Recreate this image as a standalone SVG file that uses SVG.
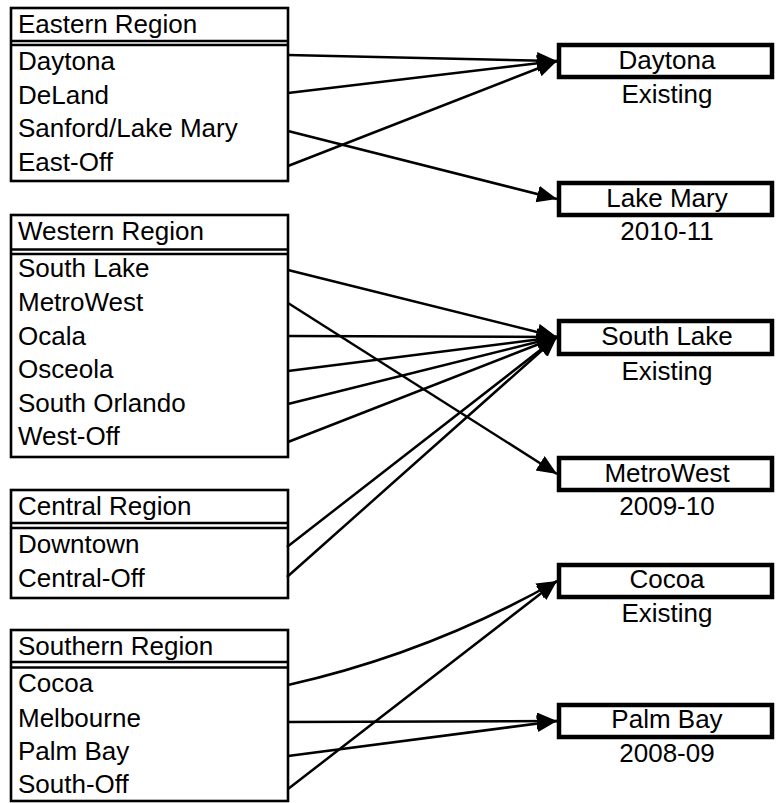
<svg xmlns="http://www.w3.org/2000/svg" width="778" height="803" viewBox="0 0 778 803">
<style>
.box{fill:#fff;stroke:#000;stroke-width:2.6}
.sep{stroke:#000;stroke-width:2.4}
.tgt{fill:#fff;stroke:#000;stroke-width:4.5}
text{font-family:"Liberation Sans",Arial,sans-serif;font-size:26px;fill:#000}
.c{text-anchor:middle}
.con path{fill:none;stroke:#000;stroke-width:2.5}
</style>
<defs>
<marker id="ah" markerUnits="userSpaceOnUse" markerWidth="22" markerHeight="18" refX="20" refY="8.5" orient="auto">
<path d="M0,0 L20,8.5 L0,17 z" fill="#000"/>
</marker>
</defs>
<rect width="778" height="803" fill="#fff"/>
<g id="eastern">
<rect class="box" x="11" y="8" width="277" height="173"/>
<line class="sep" x1="11" y1="41" x2="288" y2="41"/>
<line class="sep" x1="11" y1="45" x2="288" y2="45"/>
<text x="18" y="33">Eastern Region</text>
<text x="18" y="70">Daytona</text>
<text x="18" y="104">DeLand</text>
<text x="18" y="137">Sanford/Lake Mary</text>
<text x="18" y="171">East-Off</text>
</g>
<g id="western">
<rect class="box" x="11" y="215" width="277" height="242"/>
<line class="sep" x1="11" y1="249.5" x2="288" y2="249.5"/>
<line class="sep" x1="11" y1="254" x2="288" y2="254"/>
<text x="18" y="240">Western Region</text>
<text x="18" y="277">South Lake</text>
<text x="18" y="311">MetroWest</text>
<text x="18" y="345">Ocala</text>
<text x="18" y="378">Osceola</text>
<text x="18" y="412">South Orlando</text>
<text x="18" y="445">West-Off</text>
</g>
<g id="central">
<rect class="box" x="11" y="490" width="277" height="108"/>
<line class="sep" x1="11" y1="523" x2="288" y2="523"/>
<line class="sep" x1="11" y1="528" x2="288" y2="528"/>
<text x="18" y="515">Central Region</text>
<text x="18" y="553">Downtown</text>
<text x="18" y="587">Central-Off</text>
</g>
<g id="southern">
<rect class="box" x="11" y="630" width="277" height="171"/>
<line class="sep" x1="11" y1="662" x2="288" y2="662"/>
<line class="sep" x1="11" y1="667.5" x2="288" y2="667.5"/>
<text x="18" y="655">Southern Region</text>
<text x="18" y="692">Cocoa</text>
<text x="18" y="727">Melbourne</text>
<text x="18" y="760">Palm Bay</text>
<text x="18" y="793">South-Off</text>
</g>
<g id="t-daytona">
<rect class="tgt" x="559" y="45" width="213" height="32"/>
<text class="c" x="667" y="69">Daytona</text>
<text class="c" x="667" y="103">Existing</text>
</g>
<g id="t-lakemary">
<rect class="tgt" x="559" y="183" width="213" height="32"/>
<text class="c" x="667" y="207">Lake Mary</text>
<text class="c" x="667" y="240">2010-11</text>
</g>
<g id="t-southlake">
<rect class="tgt" x="559" y="321" width="213" height="33"/>
<text class="c" x="667" y="345">South Lake</text>
<text class="c" x="667" y="380">Existing</text>
</g>
<g id="t-metrowest">
<rect class="tgt" x="559" y="458" width="213" height="32"/>
<text class="c" x="667" y="482">MetroWest</text>
<text class="c" x="667" y="515">2009-10</text>
</g>
<g id="t-cocoa">
<rect class="tgt" x="559" y="565" width="213" height="32"/>
<text class="c" x="667" y="588">Cocoa</text>
<text class="c" x="667" y="622">Existing</text>
</g>
<g id="t-palmbay">
<rect class="tgt" x="559" y="705" width="213" height="32"/>
<text class="c" x="667" y="728">Palm Bay</text>
<text class="c" x="667" y="762">2008-09</text>
</g>
<g id="connectors" class="con">
<path d="M288,55 L557,61" marker-end="url(#ah)"/>
<path d="M288,93 L557,61" marker-end="url(#ah)"/>
<path d="M288,131 L557,199" marker-end="url(#ah)"/>
<path d="M288,166 L557,61" marker-end="url(#ah)"/>
<path d="M288,270 L557,337" marker-end="url(#ah)"/>
<path d="M288,303 L557,474" marker-end="url(#ah)"/>
<path d="M288,336 L557,337" marker-end="url(#ah)"/>
<path d="M288,371 L557,337" marker-end="url(#ah)"/>
<path d="M288,404 L557,337" marker-end="url(#ah)"/>
<path d="M288,442 L557,337" marker-end="url(#ah)"/>
<path d="M287,547 L557,337" marker-end="url(#ah)"/>
<path d="M287,577 L557,337" marker-end="url(#ah)"/>
<path d="M288,685 Q430,653 557,581" marker-end="url(#ah)"/>
<path d="M288,722 L557,721" marker-end="url(#ah)"/>
<path d="M288,756 L557,721" marker-end="url(#ah)"/>
<path d="M288,789 L557,581" marker-end="url(#ah)"/>
</g>
</svg>
